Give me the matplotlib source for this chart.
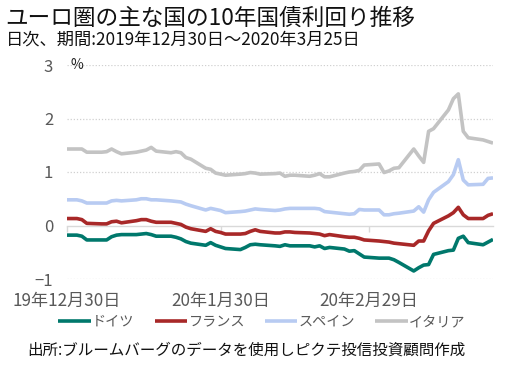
import pandas as pd
import matplotlib
matplotlib.use('Agg')
import matplotlib.pyplot as plt

plt.rcParams['font.family'] = ['Noto Sans CJK JP', 'DejaVu Sans']

# business days, 2019-12-30 .. 2020-03-25
dates = pd.bdate_range('2019-12-30', '2020-03-25')

germany = [-0.18, -0.18, -0.18, -0.20, -0.27, -0.27, -0.27, -0.21, -0.18, -0.17,
           -0.17, -0.16, -0.15, -0.17, -0.20, -0.20, -0.22, -0.25, -0.30, -0.33,
           -0.37, -0.32, -0.37, -0.40, -0.43, -0.45, -0.41, -0.36, -0.35, -0.36,
           -0.38, -0.39, -0.36, -0.38, -0.38, -0.38, -0.40, -0.38, -0.43, -0.41,
           -0.44, -0.48, -0.47, -0.53, -0.59, -0.61, -0.61, -0.61, -0.64, -0.69,
           -0.85, -0.79, -0.74, -0.73, -0.54, -0.47, -0.46, -0.24, -0.20, -0.32,
           -0.36, -0.31, -0.26]
france = [0.13, 0.13, 0.13, 0.11, 0.04, 0.03, 0.03, 0.07, 0.08, 0.05,
          0.09, 0.11, 0.11, 0.08, 0.06, 0.06, 0.04, 0.02, -0.03, -0.06,
          -0.11, -0.06, -0.11, -0.13, -0.16, -0.16, -0.15, -0.11, -0.08, -0.11,
          -0.14, -0.14, -0.12, -0.12, -0.13, -0.14, -0.15, -0.16, -0.19, -0.17,
          -0.21, -0.22, -0.22, -0.24, -0.27, -0.29, -0.30, -0.31, -0.33, -0.34,
          -0.37, -0.29, -0.29, -0.10, 0.04, 0.18, 0.24, 0.34, 0.20, 0.13,
          0.13, 0.19, 0.22]
spain = [0.48, 0.48, 0.48, 0.46, 0.42, 0.42, 0.42, 0.46, 0.47, 0.46,
         0.48, 0.50, 0.50, 0.48, 0.48, 0.46, 0.45, 0.44, 0.40, 0.37,
         0.29, 0.32, 0.30, 0.28, 0.24, 0.26, 0.27, 0.29, 0.31, 0.30,
         0.28, 0.29, 0.31, 0.32, 0.32, 0.32, 0.32, 0.31, 0.26, 0.25,
         0.22, 0.21, 0.22, 0.30, 0.29, 0.29, 0.20, 0.20, 0.22, 0.23,
         0.27, 0.35, 0.25, 0.48, 0.62, 0.82, 0.95, 1.23, 0.85, 0.76,
         0.77, 0.88, 0.89]
italy = [1.43, 1.43, 1.43, 1.43, 1.37, 1.37, 1.38, 1.43, 1.38, 1.34,
         1.37, 1.39, 1.41, 1.46, 1.39, 1.36, 1.38, 1.36, 1.27, 1.24,
         1.07, 1.05, 0.98, 0.96, 0.94, 0.96, 0.97, 0.99, 0.98, 0.96,
         0.97, 0.98, 0.92, 0.94, 0.94, 0.92, 0.94, 0.97, 0.91, 0.91,
         0.98, 1.00, 1.01, 1.03, 1.13, 1.15, 0.99, 1.02, 1.07, 1.08,
         1.43, 1.30, 1.18, 1.76, 1.81, 2.16, 2.37, 2.46, 1.76, 1.64,
         1.60, 1.57, 1.54]

names = ['ドイツ', 'フランス', 'スペイン', 'イタリア']
colors = ['#00786C', '#A82828', '#B8CBF2', '#C3C3C3']
tick_dates = pd.to_datetime(['2019-12-30', '2020-01-30', '2020-02-29'])
tick_labels = ['19年12月30日', '20年1月30日', '20年2月29日']
grey = '#595959'

fig = plt.figure(figsize=(5.21, 3.77), dpi=100)
ax = fig.add_axes([67 / 521, 1 - 279 / 377, 426 / 521, 214 / 377])

# draw Italy first so the lower lines sit on top
for series, name, col in reversed(list(zip([germany, france, spain, italy], names, colors))):
    ax.plot(dates, series, color=col, lw=2.6, label=name, solid_capstyle='butt', zorder=3)

ax.set_xlim(dates[0], dates[-1])
ax.set_ylim(-1, 3)
ax.set_yticks([-1, 0, 1, 2, 3])
ax.set_yticklabels(['−1', '0', '1', '2', '3'])
for v in [-1, 1, 2, 3]:
    ax.axhline(v, color='#D0D0D0', lw=0.9, ls=(0, (1, 1.5)), zorder=1)

for s in ['top', 'right', 'left']:
    ax.spines[s].set_visible(False)
ax.spines['bottom'].set_position(('data', 0))
ax.spines['bottom'].set_color('#D9D9D9')
ax.spines['bottom'].set_linewidth(1.0)
ax.set_xticks(tick_dates)
ax.tick_params(axis='x', length=4, color='#D9D9D9', width=1.0, labelbottom=False)
ax.tick_params(axis='y', length=0, pad=10, labelsize=12, labelcolor=grey)

sec = ax.secondary_xaxis('bottom')
sec.set_xticks(tick_dates)
sec.set_xticklabels(tick_labels)
sec.tick_params(length=0, pad=9, labelsize=12.3, labelcolor=grey)
sec.spines['bottom'].set_visible(False)

ax.text(0.008, 3, '%', transform=ax.get_yaxis_transform(), fontsize=10,
        va='center', ha='left', color='#222222')

fig.text(0.011, 1 - 18 / 377, 'ユーロ圏の主な国の10年国債利回り推移', fontsize=16.3,
         va='center', ha='left', color='#111111')
fig.text(0.011, 1 - 40 / 377, '日次、期間:2019年12月30日～2020年3月25日', fontsize=12.4,
         va='center', ha='left', color='#111111')

handles, labels = ax.get_legend_handles_labels()
fig.legend(handles[::-1], labels[::-1], loc='center', ncol=4,
           bbox_to_anchor=(262 / 521, 1 - 322 / 377), frameon=False,
           fontsize=10.2, labelcolor=grey, handlelength=2.3,
           handletextpad=0.1, columnspacing=1.4)

fig.text(246 / 521, 1 - 350 / 377, '出所:ブルームバーグのデータを使用しピクテ投信投資顧問作成',
         fontsize=11.2, va='center', ha='center', color='#111111')

fig.savefig('out.png', dpi=100)
